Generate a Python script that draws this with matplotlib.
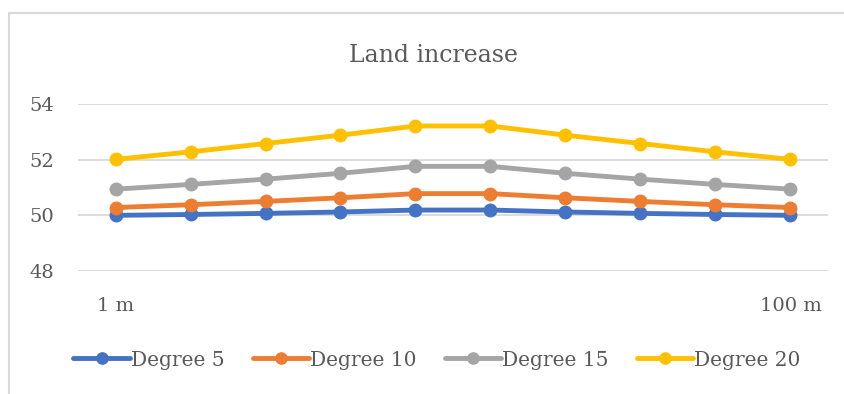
import numpy as np
import matplotlib.pyplot as plt
from matplotlib.patches import Rectangle

plt.rcParams['font.family'] = ['DejaVu Serif']

x_labels = ['1 m', '', '', '', '', '', '', '', '', '100 m']
deg5 = [50.00, 50.03, 50.07, 50.12, 50.19, 50.19, 50.12, 50.07, 50.03, 50.00]
deg10 = [50.28, 50.38, 50.50, 50.63, 50.78, 50.78, 50.63, 50.50, 50.38, 50.28]
deg15 = [50.94, 51.11, 51.30, 51.51, 51.76, 51.76, 51.51, 51.30, 51.11, 50.94]
deg20 = [52.01, 52.28, 52.58, 52.88, 53.21, 53.21, 52.88, 52.58, 52.28, 52.01]
names = ['Degree 5', 'Degree 10', 'Degree 15', 'Degree 20']
colors = ['#4472C4', '#ED7D31', '#A5A5A5', '#FFC000']

txt = '#595959'
W, H = 845, 394
fig = plt.figure(figsize=(W / 100, H / 100), dpi=100)

# light chart-area frame
fig.patches.append(Rectangle((9.5 / W, -0.1), 1.2, 1 - 13.5 / H + 0.1,
                             transform=fig.transFigure, fill=False,
                             edgecolor='#D9D9D9', linewidth=1.5))

ax = fig.add_axes([78 / W, 1 - 271 / H, 750 / W, (271 - 104) / H])
xs = np.arange(len(x_labels))
for ys, name, c in zip([deg5, deg10, deg15, deg20], names, colors):
    ax.plot(xs, ys, color=c, linewidth=3.5, marker='o', markersize=9,
            label=name, solid_capstyle='round', clip_on=False)

ax.set_xlim(-0.5, 9.5)
ax.set_ylim(48, 54)
ax.set_yticks([48, 50, 52, 54])
ax.set_xticks([0, 9])
ax.set_xticklabels([x_labels[0], x_labels[-1]])
ax.grid(axis='y', color='#D9D9D9', linewidth=1.3)
ax.set_axisbelow(True)
for s in ax.spines.values():
    s.set_visible(False)
ax.tick_params(length=0, labelsize=14, labelcolor=txt)
ax.tick_params(axis='x', pad=19)
ax.tick_params(axis='y', pad=17)

fig.text(434 / W, 1 - 55 / H, 'Land increase', ha='center', va='center',
         fontsize=17, color=txt)

fig.legend(loc='center', bbox_to_anchor=(437 / W, 1 - 360 / H), ncol=4,
           frameon=False, fontsize=14.5, labelcolor=txt, handlelength=2.8,
           handletextpad=0.05, columnspacing=1.4, markerscale=0.9)

fig.savefig('out.png', dpi=100)
